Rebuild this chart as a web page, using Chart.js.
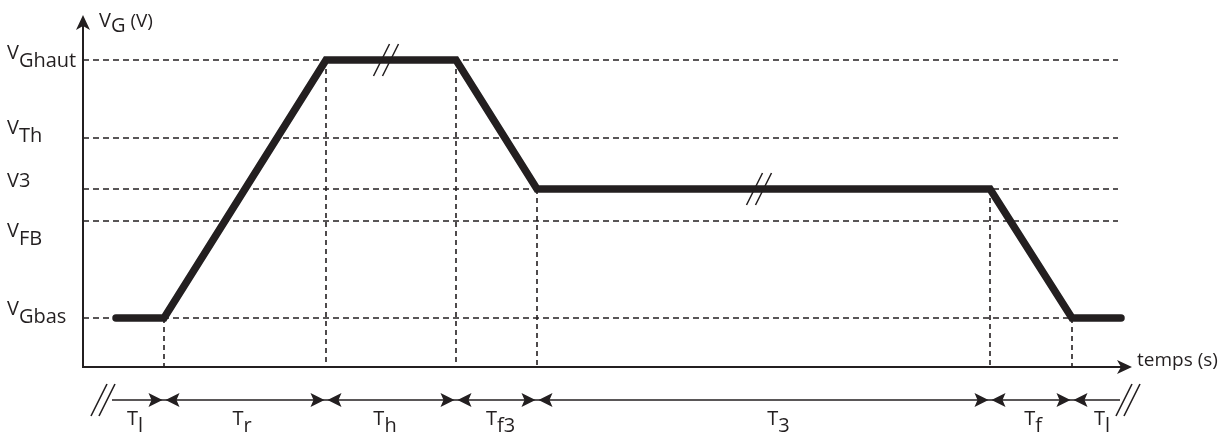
<!DOCTYPE html>
<html>
<head>
<meta charset="utf-8">
<script src="https://cdn.jsdelivr.net/npm/chart.js@4/dist/chart.umd.min.js"></script>
<style>
  body { margin: 0; background: #fff; }
  canvas { display: block; }
</style>
</head>
<body>
<canvas id="myChart" width="1226" height="434"></canvas>
<script>
// waveform breakpoints (time, gate voltage) in arbitrary units
const times = [33, 81, 243, 373, 454, 907, 989, 1038];
const vg = [49, 49, 307, 307, 178, 178, 49, 49];

// reference levels on the V axis
const levelMain = ['V', 'V', 'V3', 'V', 'V'];
const levelSub = ['Ghaut', 'Th', '', 'FB', 'Gbas'];
const levelValues = [307, 229, 178, 146, 49];

// time segments shown under the axis
const segEdges = [29, 81, 243, 373, 454, 907, 989, 1037];
const segSub = ['l', 'r', 'h', 'f3', '3', 'f', 'l'];

// where the "//" break marks sit on the waveform
const breakX = [303, 676];
const breakY = [307, 178];

const ink = '#231f20';
const fam = '"Open Sans", "Noto Sans", sans-serif';
const levelShift = [-1, -4, -2, 16, -3];  // label baseline vs. its line
const segShift = [-3, -3, -6, 4, 15, 2, 6];

const datasets = [{
  data: times.map((t, i) => ({x: t, y: vg[i]})),
  borderColor: ink,
  borderWidth: 7.5,
  borderCapStyle: 'round',
  borderJoinStyle: 'miter',
  order: 0
}];
// horizontal dashed guides
levelValues.forEach(v => datasets.push({
  data: [{x: 0, y: v}, {x: 1035, y: v}],
  borderColor: ink, borderWidth: 1.6, borderDash: [6, 4], order: 1
}));
// vertical dashed guides at each corner of the waveform
for (let i = 1; i < times.length - 1; i++) {
  datasets.push({
    data: [{x: times[i], y: vg[i]}, {x: times[i], y: 0}],
    borderColor: ink, borderWidth: 1.6, borderDash: [5, 4], order: 1
  });
}

function arrowHead(ctx, tx, ty, dx, dy, len, half, notch) {
  const nx = -dy, ny = dx;
  ctx.beginPath();
  ctx.moveTo(tx, ty);
  ctx.lineTo(tx - dx * len + nx * half, ty - dy * len + ny * half);
  ctx.lineTo(tx - dx * (len - notch), ty - dy * (len - notch));
  ctx.lineTo(tx - dx * len - nx * half, ty - dy * len - ny * half);
  ctx.closePath();
  ctx.fill();
}

function subText(ctx, main, sub, x, y, size, subDy) {
  ctx.font = size + 'px ' + fam;
  ctx.fillText(main, x, y);
  const w = ctx.measureText(main).width;
  ctx.fillText(sub, x + w, y + subDy);
  return w + ctx.measureText(sub).width;
}

function slashes(ctx, cx, cy, gap) {
  ctx.beginPath();
  [-gap / 2, gap / 2].forEach(o => {
    ctx.moveTo(cx + o - 8, cy + 16);
    ctx.lineTo(cx + o + 8, cy - 16);
  });
  ctx.stroke();
}

const drawing = {
  id: 'drawing',
  afterDraw(chart) {
    const {ctx, scales: {x, y}} = chart;
    const x0 = x.getPixelForValue(0), y0 = y.getPixelForValue(0);
    const xEnd = x.getPixelForValue(x.max), yTop = y.getPixelForValue(y.max);
    ctx.save();
    ctx.strokeStyle = ink;
    ctx.fillStyle = ink;
    ctx.lineWidth = 2;

    // axes with arrows
    ctx.beginPath();
    ctx.moveTo(x0, y0 + 1);
    ctx.lineTo(x0, yTop + 8);
    ctx.moveTo(x0 - 1, y0);
    ctx.lineTo(xEnd - 8, y0);
    ctx.stroke();
    arrowHead(ctx, x0, yTop, 0, -1, 15, 7, 4);
    arrowHead(ctx, xEnd, y0, 1, 0, 15, 7, 4);

    // axis titles
    ctx.textBaseline = 'alphabetic';
    const w = subText(ctx, 'V', 'G', x0 + 16, yTop + 12, 20, 5);
    ctx.font = '19px ' + fam;
    ctx.fillText(' (V)', x0 + 16 + w, yTop + 12);
    ctx.fillText('temps (s)', xEnd + 5, y0 - 1);

    // level labels
    levelValues.forEach((v, i) => {
      subText(ctx, levelMain[i], levelSub[i], 7, y.getPixelForValue(v) + levelShift[i], 20, 8);
    });

    // break marks on the waveform
    ctx.lineWidth = 1.5;
    breakX.forEach((bx, i) => slashes(ctx, x.getPixelForValue(bx), y.getPixelForValue(breakY[i]), 9));

    // time line under the axis
    const ty = y0 + 33;
    const px = segEdges.map(e => x.getPixelForValue(e));
    ctx.lineWidth = 1.6;
    ctx.beginPath();
    ctx.moveTo(px[0], ty);
    ctx.lineTo(px[px.length - 1], ty);
    ctx.stroke();
    slashes(ctx, px[0] - 9, ty, 8);
    slashes(ctx, px[px.length - 1] + 8, ty, 8);
    for (let i = 1; i < px.length - 1; i++) {
      arrowHead(ctx, px[i] - 1.5, ty, 1, 0, 14, 7, 3);
      arrowHead(ctx, px[i] + 1.5, ty, -1, 0, 14, 7, 3);
    }
    segSub.forEach((s, i) => {
      const mid = (px[i] + px[i + 1]) / 2 + segShift[i];
      ctx.font = '20px ' + fam;
      const tw = ctx.measureText('T').width + ctx.measureText(s).width;
      subText(ctx, 'T', s, mid - tw / 2, ty + 25, 20, 7);
    });
    ctx.restore();
  }
};

new Chart(document.getElementById('myChart'), {
  type: 'scatter',
  data: {datasets: datasets},
  options: {
    responsive: false,
    animation: false,
    showLine: true,
    clip: false,
    layout: {padding: {left: 83, top: 15, right: 94, bottom: 67}},
    elements: {point: {radius: 0, hoverRadius: 0}, line: {tension: 0}},
    scales: {
      x: {type: 'linear', min: 0, max: 1049, display: false},
      y: {type: 'linear', min: 0, max: 352, display: false}
    },
    plugins: {legend: {display: false}, tooltip: {enabled: false}}
  },
  plugins: [drawing]
});
</script>
</body>
</html>
